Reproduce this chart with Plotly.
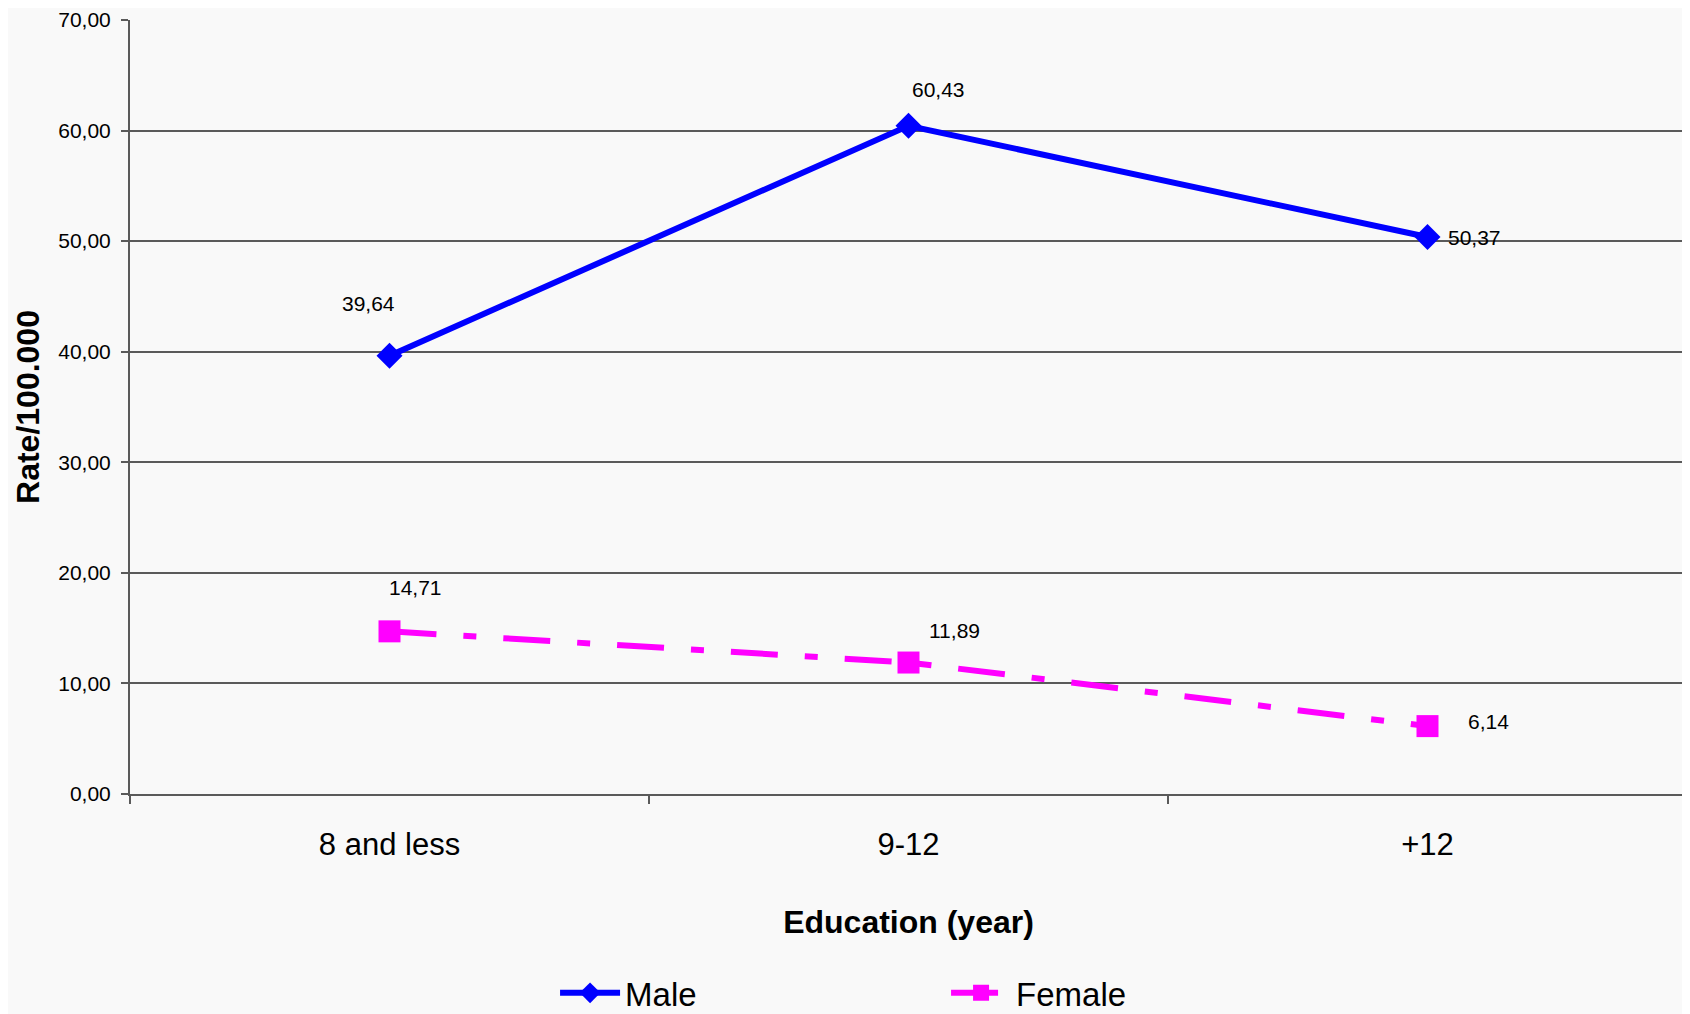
import plotly.graph_objects as go

categories = ["8 and less", "9-12", "+12"]
male = [39.64, 60.43, 50.37]
female = [14.71, 11.89, 6.14]
y_ticks = [0, 10, 20, 30, 40, 50, 60, 70]

BLUE = "#0000FF"
MAGENTA = "#FF00FF"
GRID = "#5a5a5a"
BG = "#f9f9f9"
FONT = "Liberation Sans, Arial, sans-serif"

def fmt(v):
    return f"{v:.2f}".replace(".", ",")

fig = go.Figure()
fig.add_trace(go.Scatter(
    x=categories, y=male, name="Male", mode="lines+markers",
    line=dict(color=BLUE, width=6),
    marker=dict(symbol="diamond", size=20, color=BLUE),
))
fig.add_trace(go.Scatter(
    x=categories, y=female, name="Female", mode="lines+markers",
    line=dict(color=MAGENTA, width=6, dash="47px,27px,13px,27px"),
    marker=dict(symbol="square", size=22, color=MAGENTA),
))

male_shifts = [(-21, 52), (30, 36), (47, 0)]
female_shifts = [(26, 44), (46, 32), (61, 5)]
for i, (v, (dx, dy)) in enumerate(zip(male, male_shifts)):
    fig.add_annotation(x=i, y=v, xref="x", yref="y", text=fmt(v), showarrow=False,
                       xshift=dx, yshift=dy,
                       font=dict(family=FONT, size=21, color="black"))
for i, (v, (dx, dy)) in enumerate(zip(female, female_shifts)):
    fig.add_annotation(x=i, y=v, xref="x", yref="y", text=fmt(v), showarrow=False,
                       xshift=dx, yshift=dy,
                       font=dict(family=FONT, size=21, color="black"))

fig.update_layout(
    width=1682, height=1006,
    margin=dict(l=122, r=3, t=12, b=220),
    paper_bgcolor=BG, plot_bgcolor=BG,
    separators=",.",
    font=dict(family=FONT, color="black"),
    showlegend=True,
    legend=dict(
        orientation="h", xref="paper", x=0.273, xanchor="left",
        yref="container", y=0.021, yanchor="middle",
        font=dict(family=FONT, size=33),
        entrywidth=316, entrywidthmode="pixels", itemwidth=60,
        bgcolor="rgba(0,0,0,0)",
    ),
    xaxis=dict(
        type="category", range=[-0.5, 2.5], automargin=False,
        showline=True, linecolor=GRID, linewidth=2,
        ticks="outside", tickson="boundaries", ticklen=8, tickcolor=GRID, tickwidth=1.5,
        showgrid=False,
        tickfont=dict(family=FONT, size=31),
        ticklabelstandoff=22,
        title=dict(text="<b>Education (year)</b>", font=dict(family=FONT, size=32), standoff=49),
    ),
    yaxis=dict(
        range=[0, 70], tickvals=y_ticks, tickformat=".2f", automargin=False,
        ticklabeloverflow="allow",
        showline=True, linecolor=GRID, linewidth=2,
        ticks="outside", ticklen=7, tickcolor=GRID, tickwidth=1.5,
        showgrid=True, gridcolor=GRID, gridwidth=1.5, zeroline=False,
        tickfont=dict(family=FONT, size=21),
        ticklabelstandoff=6,
        title=dict(text="<b>Rate/100.000</b>", font=dict(family=FONT, size=32), standoff=9),
    ),
)

fig.write_html("out.html")
